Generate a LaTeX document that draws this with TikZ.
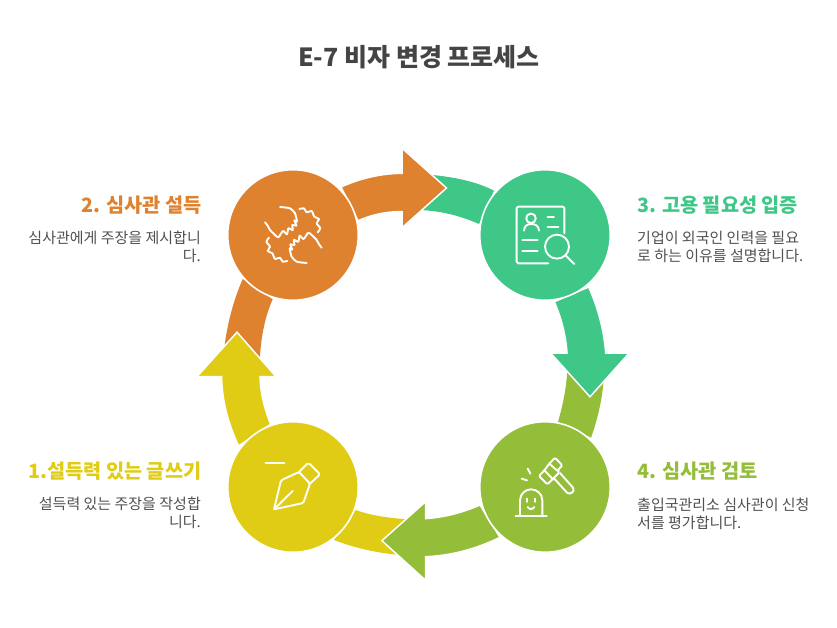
\documentclass[tikz,border=0pt]{standalone}
\usepackage{fontspec}
\usetikzlibrary{calc}
\setmainfont{Noto Sans CJK KR}
\definecolor{cOrange}{HTML}{DF8230}
\definecolor{cGreen}{HTML}{3EC786}
\definecolor{cOlive}{HTML}{94BD39}
\definecolor{cYellow}{HTML}{E0CC15}
\definecolor{cText}{HTML}{505050}
\definecolor{cTitle}{HTML}{444444}
\newcommand\qcurve[3]{.. controls ($(#1)!0.6667!(#2)$) and ($(#3)!0.6667!(#2)$) .. (#3)}
\tikzset{
  hub/.style={circle,minimum size=130.5pt,inner sep=0pt,draw=white,line width=1.6pt,fill=#1},
  tailband/.style={fill=#1,draw=none},
  bigarrow/.style={fill=#1,draw=white,line width=1.5pt,line join=miter},
  icon/.style={draw=white,line width=1.9pt,line cap=round,line join=round,fill=none},
  headtext/.style={font=\fontsize{19.7}{23}\selectfont\bfseries,inner sep=0pt,text=#1},
  bodytext/.style={font=\fontsize{15}{18.3}\selectfont,inner sep=0pt,text=cText},
  titletext/.style={font=\fontsize{25}{29}\selectfont\bfseries,inner sep=0pt,text=cTitle}
}
\begin{document}
\begin{tikzpicture}[x=1pt,y=-1pt]
\useasboundingbox (0,0) rectangle (837,628);
% tails
\fill[tailband=cGreen] (420,174) \qcurve{420,174}{468,177}{494,190.7} -- (479,224) \qcurve{479,224}{445,209}{410,210} -- cycle;
\fill[tailband=cOlive] (604,355) \qcurve{604,355}{606,396}{591,437.7} -- (558,421.7) \qcurve{558,421.7}{568.2,387.6}{567.7,355} -- cycle;
\fill[tailband=cYellow] (425,520) \qcurve{425,520}{380,519}{355.7,510} -- (334,540) \qcurve{334,540}{375,556}{425,556} -- cycle;
\fill[tailband=cOrange] (222,376) \qcurve{222,376}{224,322}{242.7,279} -- (272.7,299.3) \qcurve{272.7,299.3}{259,330}{259.5,376} -- cycle;
% arrows
\path[bigarrow=cOrange] (341,187) \qcurve{341,187}{371,173.6}{402,173.3} -- (402,148.2) -- (446.5,188) -- (402,227.8) -- (402,211.7) \qcurve{402,211.7}{380,211.2}{358,220.7} -- cycle;
\path[bigarrow=cGreen] (588.7,287) \qcurve{588.7,287}{603.2,320}{605.7,353} -- (629.2,353) -- (590,396.8) -- (550.6,353) -- (567,353) \qcurve{567,353}{565.3,327.3}{554.3,301.7} -- cycle;
\path[bigarrow=cOlive] (500,537.4) \qcurve{500,537.4}{463,555.2}{425.7,556.7} -- (425.7,580.4) -- (381.9,540.7) -- (425.7,501.6) -- (425.7,518.6) \qcurve{425.7,518.6}{453,516.8}{480,505} -- cycle;
\path[bigarrow=cYellow] (238.6,446) \qcurve{238.6,446}{222.1,411}{221.6,376.7} -- (196.9,376.7) -- (237,332.2) -- (276.1,376.7) -- (260,376.7) \qcurve{260,376.7}{260.7,400}{270.7,424.3} -- cycle;
% hubs
\node[hub=cOrange] (n2) at (293,235) {};
\node[hub=cGreen] (n3) at (545,235) {};
\node[hub=cOlive] (n4) at (545,487) {};
\node[hub=cYellow] (n1) at (293,487) {};
% handshake icon
\begin{scope}[shift={(255,195)},x=0.3333pt,y=-0.3333pt]
\draw[icon] plot[smooth,tension=0.4] coordinates {(75,36)(105,40)(120,55)(126,80)(118,76)(124,92)(112,90)(113,105)(100,100)(96,118)(84,108)(70,127)(58,118)(45,105)(38,92)(30,82)};
\draw[icon] plot[smooth,tension=0.4] coordinates {(133,42)(147,40)(155,52)(170,48)(178,65)(192,72)(185,85)(196,100)(188,112)};
\draw[icon] plot[smooth,tension=0.4] coordinates {(155,204)(125,200)(110,185)(104,160)(112,164)(106,148)(118,150)(117,135)(130,140)(134,122)(146,132)(160,113)(172,122)(185,135)(192,148)(200,158)};
\draw[icon] plot[smooth,tension=0.4] coordinates {(97,198)(83,200)(75,188)(60,192)(52,175)(38,168)(45,155)(34,140)(42,128)};
\end{scope}
% document and magnifier icon
\begin{scope}[shift={(505,195)},x=0.3333pt,y=-0.3333pt]
\draw[icon,rounded corners=1.5pt] (130,205) -- (35,205) -- (35,35) -- (178,35) -- (178,115);
\draw[icon] (78,70) circle[radius=4.8pt];
\draw[icon] (57,107) .. controls (58,93) and (66,87) .. (79,87) .. controls (92,87) and (101,93) .. (102,107);
\draw[icon] (128,65) -- (147,65) (128,97) -- (160,97) (52,135) -- (98,135) (52,167) -- (98,167);
\draw[icon] (156,155) circle[radius=12pt];
\draw[icon] (183,182) -- (208,207);
\end{scope}
% gavel icon
\begin{scope}[shift={(505,447)},x=0.3333pt,y=-0.3333pt]
\draw[icon] (32,207) -- (125,207);
\draw[icon] (45,207) -- (45,160) .. controls (45,140) and (62,127) .. (78,127) .. controls (95,127) and (112,140) .. (112,160) -- (112,207);
\draw[icon] (66,155) -- (66,165) (90,155) -- (90,165);
\draw[icon] (68,180) .. controls (72,188) and (84,188) .. (88,180);
\draw[icon] (68,65) -- (76,80) (50,95) -- (66,100);
\draw[icon,rounded corners=1.2pt] (150,32) -- (172,55) -- (158,70) -- (163,76) -- (127,112) -- (102,87) -- (118,70) -- (133,50) -- cycle;
\draw[icon] (118,70) -- (145,98) (133,50) -- (158,72);
\draw[icon] (148,95) -- (186,137) .. controls (195,146) and (212,132) .. (204,122) -- (165,78);
\end{scope}
% pen nib icon
\begin{scope}[shift={(255,447)},x=0.3333pt,y=-0.3333pt]
\draw[icon] (32,47) -- (88,47);
\draw[icon,rounded corners=1.5pt] (57,187) -- (78,100) -- (132,75) -- (165,110) -- (145,168) -- cycle;
\draw[icon,rounded corners=1.5pt] (132,75) -- (160,47) -- (195,82) -- (165,110);
\draw[icon] (57,187) -- (113,132);
\end{scope}
% texts
\node[titletext] (title) at (419,57.5) {E-7 비자 변경 프로세스};
\node[headtext=cOrange,anchor=east] (h2) at (201.5,205) {2. 심사관 설득};
\node[bodytext,anchor=north east,align=right] (b2) at (201,230.5) {심사관에게 주장을 제시합니\\다.};
\node[headtext=cGreen,anchor=west] (h3) at (637,205) {3. 고용 필요성 입증};
\node[bodytext,anchor=north west,align=left] (b3) at (637,230.5) {기업이 외국인 인력을 필요\\로 하는 이유를 설명합니다.};
\node[headtext=cYellow,anchor=east] (h1) at (201.5,471) {1.설득력 있는 글쓰기};
\node[bodytext,anchor=north east,align=right] (b1) at (201,496.5) {설득력 있는 주장을 작성합\\니다.};
\node[headtext=cOlive,anchor=west] (h4) at (637,471) {4. 심사관 검토};
\node[bodytext,anchor=north west,align=left] (b4) at (637,497.5) {출입국관리소 심사관이 신청\\서를 평가합니다.};
\end{tikzpicture}
\end{document}
